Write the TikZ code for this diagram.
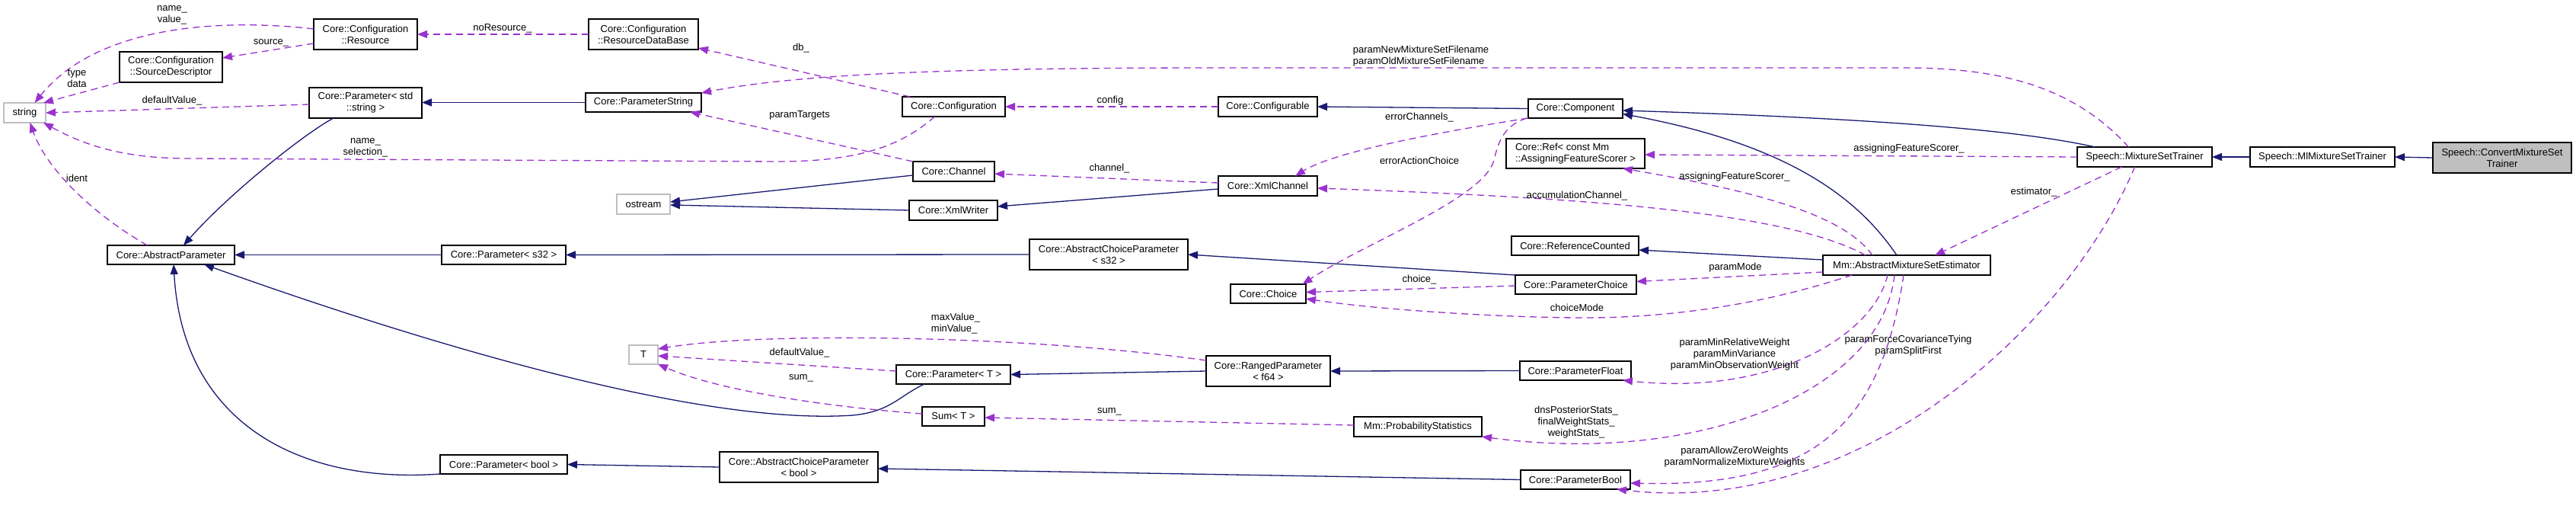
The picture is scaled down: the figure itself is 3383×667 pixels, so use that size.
\documentclass[tikz,border=0pt]{standalone}
\usepackage{fontspec}
\setmainfont{Liberation Sans}
\usetikzlibrary{arrows.meta}
\definecolor{navy}{HTML}{191970}
\definecolor{orchid}{HTML}{9A32CD}
\definecolor{grayb}{HTML}{BFBFBF}
\newcommand\fsz{\fontsize{13}{15}\selectfont}
\tikzset{
 cls/.style={draw=black, line width=1.5pt, fill=white, inner sep=0pt, outer sep=0pt, align=center, font=\fsz},
 ext/.style={cls, draw=grayb},
 root/.style={cls, fill=grayb},
 inh/.style={color=navy, line width=1.3pt, -{Triangle[length=13pt,width=10pt]}},
 use/.style={color=orchid, line width=1.3pt, dash pattern=on 9pt off 6pt, -{Triangle[length=13pt,width=10pt]}},
 lbl/.style={font=\fsz, inner sep=0pt, align=center},
}
\begin{document}
\begin{tikzpicture}[x=1pt,y=-1pt]
\useasboundingbox (0,0) rectangle (3383,667);
% nodes
\node[ext, minimum width=55pt, minimum height=26pt] (str) at (32.5,148) {string};
\node[cls, minimum width=136pt, minimum height=40pt] (res) at (480,45) {Core::Configuration\\::Resource};
\node[cls, minimum width=135pt, minimum height=40pt] (srcd) at (224.5,88) {Core::Configuration\\::SourceDescriptor};
\node[cls, minimum width=148pt, minimum height=40pt] (pstds) at (480,135) {Core::Parameter< std\\::string >};
\node[cls, minimum width=167pt, minimum height=25pt] (absp) at (224.5,334.5) {Core::AbstractParameter};
\node[cls, minimum width=144pt, minimum height=40pt] (rdb) at (845,45) {Core::Configuration\\::ResourceDataBase};
\node[cls, minimum width=152pt, minimum height=25pt] (pstr) at (845,134.5) {Core::ParameterString};
\node[ext, minimum width=70pt, minimum height=26pt] (ostream) at (845,268) {ostream};
\node[cls, minimum width=163pt, minimum height=25pt] (ps32) at (661.5,334.5) {Core::Parameter< s32 >};
\node[ext, minimum width=38pt, minimum height=25pt] (T) at (845,465.5) {T};
\node[cls, minimum width=167pt, minimum height=25pt] (pbool) at (661.5,609.5) {Core::Parameter< bool >};
\node[cls, minimum width=208pt, minimum height=40pt] (acpbool) at (1049,613) {Core::AbstractChoiceParameter\\< bool >};
\node[cls, minimum width=135pt, minimum height=26pt] (conf) at (1252.5,140) {Core::Configuration};
\node[cls, minimum width=130pt, minimum height=26pt] (cfgable) at (1665,140) {Core::Configurable};
\node[cls, minimum width=107pt, minimum height=26pt] (chan) at (1252.5,225) {Core::Channel};
\node[cls, minimum width=130pt, minimum height=26pt] (xmlchan) at (1665,244) {Core::XmlChannel};
\node[cls, minimum width=116pt, minimum height=26pt] (xmlw) at (1252,276) {Core::XmlWriter};
\node[cls, minimum width=208pt, minimum height=40pt] (acps32) at (1456,334) {Core::AbstractChoiceParameter\\< s32 >};
\node[cls, minimum width=99pt, minimum height=25pt] (choice) at (1665.5,385.5) {Core::Choice};
\node[cls, minimum width=150pt, minimum height=25pt] (pT) at (1252,491.5) {Core::Parameter< T >};
\node[cls, minimum width=163pt, minimum height=40pt] (ranged) at (1665.5,487) {Core::RangedParameter\\< f64 >};
\node[cls, minimum width=82pt, minimum height=25pt] (sumT) at (1252,546.5) {Sum< T >};
\node[cls, minimum width=168pt, minimum height=26pt] (probst) at (1862,560) {Mm::ProbabilityStatistics};
\node[cls, minimum width=124pt, minimum height=25pt] (comp) at (2069,142.5) {Core::Component};
\node[cls, align=left, minimum width=182pt, minimum height=39pt] (ref) at (2069,201.5) {Core::Ref< const Mm\\::AssigningFeatureScorer >};
\node[cls, minimum width=167pt, minimum height=25pt] (refc) at (2068.5,322.5) {Core::ReferenceCounted};
\node[cls, minimum width=159pt, minimum height=25pt] (pchoice) at (2069.5,373.5) {Core::ParameterChoice};
\node[cls, minimum width=146pt, minimum height=25pt] (pfloat) at (2069,486.5) {Core::ParameterFloat};
\node[cls, minimum width=144pt, minimum height=25pt] (pbool2) at (2069,629.5) {Core::ParameterBool};
\node[cls, minimum width=220pt, minimum height=26pt] (mse) at (2504,348) {Mm::AbstractMixtureSetEstimator};
\node[cls, minimum width=177pt, minimum height=26pt] (mst) at (2816.5,206) {Speech::MixtureSetTrainer};
\node[cls, minimum width=190pt, minimum height=26pt] (mlmst) at (3050,206) {Speech::MlMixtureSetTrainer};
\node[root, minimum width=182pt, minimum height=40pt] (cmst) at (3286,207) {Speech::ConvertMixtureSet\\Trainer};
% inheritance edges
\draw[inh] ([xshift=-42pt]pstds.south) .. controls (400,175) and (300,255) .. ([xshift=16.5pt]absp.north);
\draw[inh] (pstr.west) -- (pstds.east |- pstr.west);
\draw[inh] (ps32.west) -- (absp.east);
\draw[inh] (acps32.west) -- (ps32.east);
\draw[inh] ([xshift=-38pt]pT.south) .. controls (1180,520) and (1170,540) .. (1120,545) .. controls (900,560) and (500,430) .. ([xshift=-40pt]absp.south east);
\draw[inh] (pbool.south west) .. controls (400,635) and (240,560) .. ([xshift=3.5pt]absp.south);
\draw[inh] (acpbool.west) -- (pbool.east);
\draw[inh] (pbool2.west) -- ([yshift=-2pt]acpbool.east);
\draw[inh] (pchoice.north west) -- (acps32.east);
\draw[inh] (ranged.west) -- (pT.east);
\draw[inh] (pfloat.west) -- (ranged.east);
\draw[inh] ([yshift=-5pt]chan.west) -- ([yshift=3pt]ostream.east);
\draw[inh] (xmlw.west) -- ([yshift=-1pt]ostream.east);
\draw[inh] ([yshift=-4pt]xmlchan.west) -- ([yshift=5pt]xmlw.east);
\draw[inh] (comp.west) -- (cfgable.east);
\draw[inh] ([xshift=-65pt]mst.north) .. controls (2650,170) and (2450,155) .. ([yshift=-2.5pt]comp.east);
\draw[inh] ([xshift=-13pt]mse.north) .. controls (2440,260) and (2350,190) .. ([yshift=-7pt]comp.east);
\draw[inh] ([yshift=7pt]mse.west) -- ([yshift=-5.5pt]refc.east);
\draw[inh] (mlmst.west) -- (mst.east);
\draw[inh] (cmst.west) -- (mlmst.east);
% usage edges
\draw[use] ([yshift=7pt]res.west) .. controls (300,25) and (130,30) .. ([xshift=13pt]str.north);
\draw[use] ([yshift=-12pt]res.west) -- ([yshift=12pt]srcd.east);
\draw[use] (srcd.south west) -- ([xshift=-3pt]str.north east);
\draw[use] ([yshift=-2pt]pstds.west) -- (str.east);
\draw[use] ([xshift=-25pt]conf.south) .. controls (1180,195) and (1120,212) .. (1020,212) -- (250,208) .. controls (160,208) and (110,190) .. ([xshift=-3pt]str.south east);
\draw[use] ([xshift=-31pt]absp.north) .. controls (120,280) and (60,220) .. ([xshift=7pt]str.south);
\draw[use] (rdb.west) -- (res.east);
\draw[use] ([xshift=10pt]conf.north west) -- ([yshift=-18pt]rdb.east);
\draw[use] ([xshift=-21pt]mst.north) .. controls (2720,110) and (2620,89) .. (2500,89) -- (1600,89) .. controls (1250,89) and (1050,97) .. (pstr.north east);
\draw[use] (chan.north west) -- ([xshift=-15pt]pstr.south east);
\draw[use] (cfgable.west) -- (conf.east);
\draw[use] ([yshift=4pt]xmlchan.west) -- ([yshift=-3pt]chan.east);
\draw[use] (comp.south west) .. controls (1880,175) and (1750,200) .. ([xshift=36pt]xmlchan.north);
\draw[use] ([xshift=-2pt]comp.south west) .. controls (1975,165) and (1968,185) .. (1962,210) .. controls (1950,260) and (1790,320) .. ([xshift=45pt]choice.north);
\draw[use] ([xshift=-54pt]mse.north) .. controls (2350,280) and (2100,260) .. ([yshift=-3pt]xmlchan.east);
\draw[use] (mst.west) -- ([yshift=-1.5pt]ref.east);
\draw[use] ([xshift=-45pt]mse.north) .. controls (2420,280) and (2300,250) .. ([xshift=-29pt]ref.south east);
\draw[use] ([yshift=-9pt]mse.west) -- ([yshift=4pt]pchoice.east);
\draw[use] ([yshift=-1.5pt]pchoice.west) -- ([yshift=2pt]choice.east);
\draw[use] ([xshift=-72pt]mse.south) .. controls (2300,405) and (2170,418) .. (2071,417) .. controls (1950,416) and (1800,405) .. ([yshift=-6.5pt]choice.east);
\draw[use] ([xshift=-25pt]mse.south) .. controls (2460,440) and (2330,520) .. ([xshift=-11pt]pfloat.south east);
\draw[use] ([xshift=-16pt]mse.south) .. controls (2470,520) and (2220,610) .. (probst.south east);
\draw[use] ([xshift=-4pt]mse.south) .. controls (2470,560) and (2380,640) .. ([yshift=-4.5pt]pbool2.east);
\draw[use] ([xshift=-13pt]mst.south) .. controls (2720,420) and (2450,680) .. ([xshift=-18pt]pbool2.south east);
\draw[use] ([xshift=-30pt]mst.south) -- ([xshift=37pt]mse.north);
\draw[use] ([yshift=14pt]ranged.west) .. controls (1350,440) and (1000,435) .. ([yshift=7.5pt]T.east);
\draw[use] ([yshift=4.5pt]pT.west) -- ([yshift=-1.5pt]T.east);
\draw[use] ([yshift=3.5pt]sumT.west) .. controls (1100,535) and (950,515) .. (T.south east);
\draw[use] ([yshift=2pt]probst.west) -- ([yshift=-1.5pt]sumT.east);
% edge labels
\node[lbl] (l1) at (226,19.5) {name\_\\value\_};
\node[lbl] (l2) at (356,56) {source\_};
\node[lbl] (l3) at (101,103) {type\\data};
\node[lbl] (l4) at (226,132) {defaultValue\_};
\node[lbl] (l5) at (480,194) {name\_\\selection\_};
\node[lbl] (l6) at (101,234) {ident};
\node[lbl] (l7) at (660,37) {noResource\_};
\node[lbl] (l8) at (1052,63) {db\_};
\node[lbl] (l9) at (1050,151) {paramTargets};
\node[lbl, align=left] (l10) at (1866,74) {paramNewMixtureSetFilename\\paramOldMixtureSetFilename};
\node[lbl] (l11) at (1458,132) {config};
\node[lbl] (l12) at (1457,221) {channel\_};
\node[lbl] (l13) at (1864,154) {errorChannels\_};
\node[lbl] (l14) at (1864,211) {errorActionChoice};
\node[lbl] (l15) at (2278,232) {assigningFeatureScorer\_};
\node[lbl] (l16) at (2071,257) {accumulationChannel\_};
\node[lbl] (l17) at (2507,195) {assigningFeatureScorer\_};
\node[lbl] (l18) at (2671,252) {estimator\_};
\node[lbl] (l19) at (2279,351) {paramMode};
\node[lbl] (l20) at (1864,367) {choice\_};
\node[lbl] (l21) at (2071,404) {choiceMode};
\node[lbl] (l22) at (2278,465) {paramMinRelativeWeight\\paramMinVariance\\paramMinObservationWeight};
\node[lbl] (l23) at (2070,554) {dnsPosteriorStats\_\\finalWeightStats\_\\weightStats\_};
\node[lbl] (l24) at (2278,600) {paramAllowZeroWeights\\paramNormalizeMixtureWeights};
\node[lbl] (l25) at (2506,454) {paramForceCovarianceTying\\paramSplitFirst};
\node[lbl, align=left] (l26) at (1255,425) {maxValue\_\\minValue\_};
\node[lbl] (l27) at (1050,463) {defaultValue\_};
\node[lbl] (l28) at (1052,496) {sum\_};
\node[lbl] (l29) at (1457,540) {sum\_};
\end{tikzpicture}
\end{document}
